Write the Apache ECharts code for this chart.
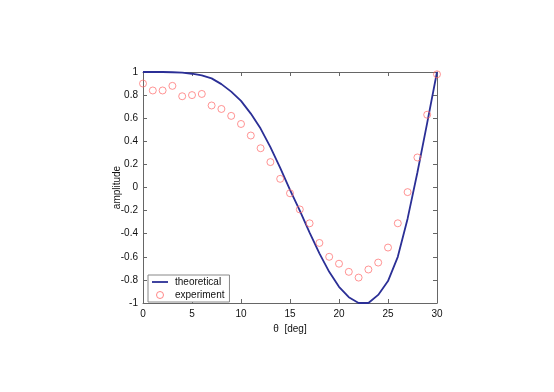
<!DOCTYPE html>
<html>
<head>
<meta charset="utf-8">
<script src="https://cdn.jsdelivr.net/npm/echarts@6/dist/echarts.min.js"></script>
<style>
  html, body { margin: 0; padding: 0; background: #fff; }
  #chart { width: 554px; height: 392px; }
</style>
</head>
<body>
<div id="chart"></div>
<script>
// angle in degrees
var angles = [0, 1, 2, 3, 4, 5, 6, 7, 8, 9, 10, 11, 12, 13, 14, 15,
              16, 17, 18, 19, 20, 21, 22, 23, 24, 25, 26, 27, 28, 29, 30];
// theoretical curve
var theoretical = [1, 1, 1, 0.998, 0.995, 0.985, 0.97, 0.945, 0.895, 0.83, 0.75,
                   0.64, 0.51, 0.35, 0.17, -0.02, -0.2, -0.39, -0.57, -0.73, -0.86,
                   -0.95, -1, -1, -0.93, -0.81, -0.6, -0.27, 0.13, 0.56, 1];
// measured values
var experiment = [0.9, 0.84, 0.84, 0.88, 0.79, 0.8, 0.81, 0.71, 0.68, 0.62, 0.55,
                  0.45, 0.34, 0.22, 0.075, -0.05, -0.19, -0.31, -0.48, -0.6, -0.66,
                  -0.73, -0.78, -0.71, -0.65, -0.52, -0.31, -0.04, 0.26, 0.63, 0.98];
var yTicks = ['-1', '-0.8', '-0.6', '-0.4', '-0.2', '0', '0.2', '0.4', '0.6', '0.8', '1'];

var font = 'Liberation Sans, Arial, sans-serif';
var frameColor = '#666';
var lineColor = '#2b2f96';
var dotColor = '#ff6a6a';

function pairs(ys) {
    var out = [];
    for (var i = 0; i < angles.length; i++) {
        out.push([angles[i], ys[i]]);
    }
    return out;
}

var axisCommon = {
    axisLine: { show: true, onZero: false, lineStyle: { color: frameColor, width: 1 } },
    axisTick: { show: true, inside: true, length: 4, lineStyle: { color: frameColor } },
    splitLine: { show: false }
};

var chart = echarts.init(document.getElementById('chart'));
chart.setOption({
    animation: false,
    backgroundColor: '#fff',
    textStyle: { fontFamily: font },
    grid: { left: 143, top: 72, right: 117, bottom: 89 },
    legend: {
        orient: 'vertical',
        left: 148,
        top: 275,
        padding: [2, 5, 2, 4],
        itemGap: 3,
        itemWidth: 16,
        itemHeight: 7,
        symbolKeepAspect: true,
        borderColor: '#888',
        borderWidth: 1,
        backgroundColor: '#fff',
        textStyle: { fontFamily: font, fontSize: 10, color: '#111', padding: [0, 0, 0, 2] },
        data: [
            {
                name: 'theoretical',
                icon: 'path://M0,0 L16,0 L16,1.8 L0,1.8 Z',
                itemStyle: { color: lineColor, borderWidth: 0 }
            },
            {
                name: 'experiment',
                icon: 'circle',
                itemStyle: { color: 'rgba(255,255,255,0)', borderColor: dotColor, borderWidth: 1 }
            }
        ]
    },
    xAxis: [
        Object.assign({
            type: 'value', min: 0, max: 30, interval: 5, position: 'bottom',
            name: 'θ  [deg]', nameLocation: 'middle', nameGap: 12,
            nameTextStyle: { fontFamily: font, fontSize: 10, color: '#111' },
            axisLabel: { fontFamily: font, fontSize: 10, color: '#111', margin: 6 }
        }, axisCommon),
        Object.assign({
            type: 'value', min: 0, max: 30, interval: 5, position: 'top',
            axisLabel: { show: false }
        }, axisCommon)
    ],
    yAxis: [
        Object.assign({
            type: 'value', min: -1, max: 1, interval: 0.2, position: 'left',
            name: 'amplitude', nameLocation: 'middle', nameGap: 21, nameRotate: 90,
            nameMoveOverlap: false,
            nameTextStyle: { fontFamily: font, fontSize: 10, color: '#111' },
            axisLabel: {
                fontFamily: font, fontSize: 10, color: '#111', margin: 5,
                formatter: function (v) {
                    return yTicks[Math.round((v + 1) / 0.2)];
                }
            }
        }, axisCommon),
        Object.assign({
            type: 'value', min: -1, max: 1, interval: 0.2, position: 'right',
            axisLabel: { show: false }
        }, axisCommon)
    ],
    series: [
        {
            name: 'theoretical',
            type: 'line',
            data: pairs(theoretical),
            symbol: 'none',
            smooth: false,
            lineStyle: { color: lineColor, width: 1.8 },
            itemStyle: { color: lineColor },
            z: 2
        },
        {
            name: 'experiment',
            type: 'scatter',
            data: pairs(experiment),
            symbol: 'circle',
            symbolSize: 7,
            itemStyle: { color: 'rgba(255,255,255,0)', borderColor: dotColor, borderWidth: 0.9 },
            z: 3
        }
    ]
});
</script>
</body>
</html>
